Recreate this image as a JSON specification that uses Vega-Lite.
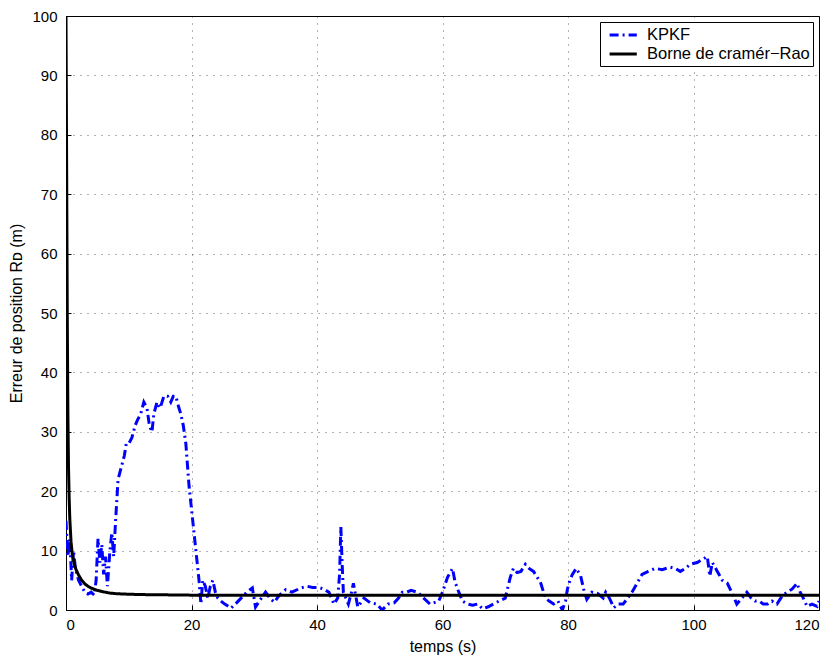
{
  "$schema": "https://vega.github.io/schema/vega-lite/v6.json",
  "width": 753,
  "height": 594,
  "autosize": "none",
  "padding": {"left": 66, "top": 16, "right": 18, "bottom": 51},
  "background": "white",
  "config": {
    "font": "Liberation Sans",
    "view": {"stroke": "black", "strokeWidth": 1},
    "axis": {
      "labelFont": "Liberation Sans", "titleFont": "Liberation Sans",
      "labelFontSize": 15, "titleFontSize": 16, "titleFontWeight": "normal",
      "labelColor": "black", "titleColor": "black",
      "domainColor": "black", "tickColor": "black",
      "grid": true, "gridColor": "black", "gridOpacity": 0.6, "gridDash": [1, 6],
      "tickSize": -5
    }
  },
  "data": {"values": [
    {"t":0,"v":15,"s":"KPKF"},{"t":0.3,"v":9,"s":"KPKF"},{"t":0.6,"v":12,"s":"KPKF"},{"t":0.9,"v":5,"s":"KPKF"},{"t":1.2,"v":10,"s":"KPKF"},{"t":1.5,"v":7,"s":"KPKF"},{"t":2,"v":5,"s":"KPKF"},{"t":2.5,"v":4,"s":"KPKF"},{"t":3,"v":3,"s":"KPKF"},{"t":3.5,"v":2.7,"s":"KPKF"},{"t":4,"v":3,"s":"KPKF"},{"t":4.5,"v":2.5,"s":"KPKF"},{"t":4.8,"v":5,"s":"KPKF"},{"t":5.1,"v":12,"s":"KPKF"},{"t":5.4,"v":8,"s":"KPKF"},{"t":5.7,"v":11,"s":"KPKF"},{"t":6,"v":6,"s":"KPKF"},{"t":6.3,"v":9,"s":"KPKF"},{"t":6.6,"v":4,"s":"KPKF"},{"t":7,"v":10,"s":"KPKF"},{"t":7.3,"v":13,"s":"KPKF"},{"t":7.6,"v":9,"s":"KPKF"},{"t":7.9,"v":15,"s":"KPKF"},{"t":8.3,"v":22,"s":"KPKF"},{"t":8.8,"v":24,"s":"KPKF"},{"t":9.3,"v":26,"s":"KPKF"},{"t":9.6,"v":28,"s":"KPKF"},{"t":10,"v":28,"s":"KPKF"},{"t":10.5,"v":29,"s":"KPKF"},{"t":11,"v":31,"s":"KPKF"},{"t":11.4,"v":32,"s":"KPKF"},{"t":11.9,"v":33,"s":"KPKF"},{"t":12.4,"v":35,"s":"KPKF"},{"t":12.9,"v":34,"s":"KPKF"},{"t":13.3,"v":31,"s":"KPKF"},{"t":13.7,"v":30,"s":"KPKF"},{"t":14,"v":33,"s":"KPKF"},{"t":14.5,"v":35,"s":"KPKF"},{"t":15,"v":34,"s":"KPKF"},{"t":15.6,"v":36,"s":"KPKF"},{"t":16.2,"v":36,"s":"KPKF"},{"t":16.7,"v":35,"s":"KPKF"},{"t":17.1,"v":36,"s":"KPKF"},{"t":17.5,"v":36,"s":"KPKF"},{"t":18,"v":34,"s":"KPKF"},{"t":18.3,"v":33,"s":"KPKF"},{"t":18.7,"v":31,"s":"KPKF"},{"t":19.1,"v":28,"s":"KPKF"},{"t":19.6,"v":21,"s":"KPKF"},{"t":20,"v":17,"s":"KPKF"},{"t":20.4,"v":13,"s":"KPKF"},{"t":20.8,"v":9,"s":"KPKF"},{"t":21.2,"v":5,"s":"KPKF"},{"t":21.5,"v":1,"s":"KPKF"},{"t":21.8,"v":5,"s":"KPKF"},{"t":22.2,"v":4,"s":"KPKF"},{"t":22.6,"v":2,"s":"KPKF"},{"t":23,"v":4,"s":"KPKF"},{"t":23.4,"v":5,"s":"KPKF"},{"t":23.8,"v":3,"s":"KPKF"},{"t":24.2,"v":2,"s":"KPKF"},{"t":24.7,"v":1.5,"s":"KPKF"},{"t":25.3,"v":1,"s":"KPKF"},{"t":26.3,"v":0.3,"s":"KPKF"},{"t":27,"v":1,"s":"KPKF"},{"t":27.9,"v":2,"s":"KPKF"},{"t":28.8,"v":3,"s":"KPKF"},{"t":29.7,"v":3.7,"s":"KPKF"},{"t":30.2,"v":0.5,"s":"KPKF"},{"t":30.8,"v":1.5,"s":"KPKF"},{"t":31.8,"v":3,"s":"KPKF"},{"t":32.5,"v":2,"s":"KPKF"},{"t":33.2,"v":1.3,"s":"KPKF"},{"t":34,"v":2.5,"s":"KPKF"},{"t":35,"v":3.4,"s":"KPKF"},{"t":36,"v":3,"s":"KPKF"},{"t":37.4,"v":3.7,"s":"KPKF"},{"t":38.4,"v":4,"s":"KPKF"},{"t":39.3,"v":3.8,"s":"KPKF"},{"t":40.3,"v":3.8,"s":"KPKF"},{"t":41.1,"v":3.5,"s":"KPKF"},{"t":41.9,"v":3,"s":"KPKF"},{"t":42.7,"v":1,"s":"KPKF"},{"t":43.3,"v":2,"s":"KPKF"},{"t":43.6,"v":6,"s":"KPKF"},{"t":43.8,"v":14,"s":"KPKF"},{"t":44,"v":8,"s":"KPKF"},{"t":44.2,"v":3,"s":"KPKF"},{"t":45,"v":1,"s":"KPKF"},{"t":45.5,"v":3,"s":"KPKF"},{"t":45.8,"v":4.5,"s":"KPKF"},{"t":46.5,"v":0.5,"s":"KPKF"},{"t":47.5,"v":2,"s":"KPKF"},{"t":48.5,"v":1.2,"s":"KPKF"},{"t":49.5,"v":1,"s":"KPKF"},{"t":50.4,"v":0,"s":"KPKF"},{"t":51.3,"v":1,"s":"KPKF"},{"t":52.3,"v":1.2,"s":"KPKF"},{"t":53,"v":2,"s":"KPKF"},{"t":53.6,"v":3,"s":"KPKF"},{"t":54.3,"v":3,"s":"KPKF"},{"t":55,"v":3.3,"s":"KPKF"},{"t":56,"v":3,"s":"KPKF"},{"t":57,"v":2,"s":"KPKF"},{"t":58,"v":1,"s":"KPKF"},{"t":59.4,"v":1.5,"s":"KPKF"},{"t":60,"v":3,"s":"KPKF"},{"t":60.8,"v":5.5,"s":"KPKF"},{"t":61.6,"v":7,"s":"KPKF"},{"t":62,"v":4.7,"s":"KPKF"},{"t":62.6,"v":3,"s":"KPKF"},{"t":63.2,"v":1.5,"s":"KPKF"},{"t":64,"v":1,"s":"KPKF"},{"t":64.8,"v":0.8,"s":"KPKF"},{"t":65.6,"v":1,"s":"KPKF"},{"t":66.4,"v":0.2,"s":"KPKF"},{"t":67.2,"v":0.5,"s":"KPKF"},{"t":68.1,"v":1,"s":"KPKF"},{"t":69,"v":1.5,"s":"KPKF"},{"t":70,"v":2,"s":"KPKF"},{"t":70.8,"v":5.5,"s":"KPKF"},{"t":71.3,"v":7,"s":"KPKF"},{"t":71.9,"v":6.3,"s":"KPKF"},{"t":72.5,"v":6.5,"s":"KPKF"},{"t":73.2,"v":7.7,"s":"KPKF"},{"t":73.8,"v":7,"s":"KPKF"},{"t":74.5,"v":6.5,"s":"KPKF"},{"t":75.1,"v":5.5,"s":"KPKF"},{"t":75.6,"v":4.7,"s":"KPKF"},{"t":76.4,"v":2,"s":"KPKF"},{"t":77,"v":1.5,"s":"KPKF"},{"t":77.7,"v":1,"s":"KPKF"},{"t":78.4,"v":1.5,"s":"KPKF"},{"t":79.1,"v":0,"s":"KPKF"},{"t":79.6,"v":1.5,"s":"KPKF"},{"t":79.9,"v":3.5,"s":"KPKF"},{"t":80.3,"v":5,"s":"KPKF"},{"t":80.7,"v":6,"s":"KPKF"},{"t":81.3,"v":7,"s":"KPKF"},{"t":82,"v":5.8,"s":"KPKF"},{"t":82.5,"v":3.5,"s":"KPKF"},{"t":83,"v":1.8,"s":"KPKF"},{"t":83.8,"v":3,"s":"KPKF"},{"t":84.7,"v":2.8,"s":"KPKF"},{"t":85.6,"v":2,"s":"KPKF"},{"t":86,"v":3,"s":"KPKF"},{"t":86.6,"v":2,"s":"KPKF"},{"t":87.3,"v":0.4,"s":"KPKF"},{"t":88,"v":1,"s":"KPKF"},{"t":88.8,"v":1,"s":"KPKF"},{"t":89.5,"v":2,"s":"KPKF"},{"t":90.2,"v":3,"s":"KPKF"},{"t":91,"v":4.5,"s":"KPKF"},{"t":91.8,"v":6,"s":"KPKF"},{"t":92.8,"v":6.5,"s":"KPKF"},{"t":93.9,"v":7,"s":"KPKF"},{"t":95,"v":6.8,"s":"KPKF"},{"t":96.3,"v":7.2,"s":"KPKF"},{"t":97.1,"v":7,"s":"KPKF"},{"t":97.9,"v":6.5,"s":"KPKF"},{"t":98.7,"v":7,"s":"KPKF"},{"t":99.5,"v":7.7,"s":"KPKF"},{"t":100.6,"v":8,"s":"KPKF"},{"t":101.4,"v":8.5,"s":"KPKF"},{"t":102.2,"v":9,"s":"KPKF"},{"t":102.6,"v":5.7,"s":"KPKF"},{"t":103,"v":8,"s":"KPKF"},{"t":103.8,"v":6.5,"s":"KPKF"},{"t":104.6,"v":5,"s":"KPKF"},{"t":105.4,"v":4.5,"s":"KPKF"},{"t":106.3,"v":2.5,"s":"KPKF"},{"t":106.9,"v":1,"s":"KPKF"},{"t":107.7,"v":2,"s":"KPKF"},{"t":108.5,"v":3,"s":"KPKF"},{"t":109.2,"v":2,"s":"KPKF"},{"t":109.8,"v":1.5,"s":"KPKF"},{"t":110.5,"v":1.5,"s":"KPKF"},{"t":111.1,"v":1,"s":"KPKF"},{"t":111.8,"v":1,"s":"KPKF"},{"t":112.5,"v":1.5,"s":"KPKF"},{"t":113.3,"v":1,"s":"KPKF"},{"t":114.1,"v":2.3,"s":"KPKF"},{"t":114.9,"v":3,"s":"KPKF"},{"t":115.7,"v":3.5,"s":"KPKF"},{"t":116.5,"v":4.5,"s":"KPKF"},{"t":117,"v":3,"s":"KPKF"},{"t":117.5,"v":2,"s":"KPKF"},{"t":118.1,"v":0.6,"s":"KPKF"},{"t":118.9,"v":1,"s":"KPKF"},{"t":119.7,"v":0.6,"s":"KPKF"},{"t":120,"v":1.5,"s":"KPKF"},
    {"t":0,"v":100,"s":"Borne de cramér−Rao"},{"t":0.1,"v":75,"s":"Borne de cramér−Rao"},{"t":0.2,"v":50,"s":"Borne de cramér−Rao"},{"t":0.3,"v":33,"s":"Borne de cramér−Rao"},{"t":0.4,"v":24,"s":"Borne de cramér−Rao"},{"t":0.5,"v":19,"s":"Borne de cramér−Rao"},{"t":0.6,"v":15.5,"s":"Borne de cramér−Rao"},{"t":0.8,"v":11.5,"s":"Borne de cramér−Rao"},{"t":1,"v":9.4,"s":"Borne de cramér−Rao"},{"t":1.3,"v":7.8,"s":"Borne de cramér−Rao"},{"t":1.6,"v":6.8,"s":"Borne de cramér−Rao"},{"t":2,"v":5.9,"s":"Borne de cramér−Rao"},{"t":2.5,"v":5,"s":"Borne de cramér−Rao"},{"t":3,"v":4.4,"s":"Borne de cramér−Rao"},{"t":3.5,"v":4,"s":"Borne de cramér−Rao"},{"t":4,"v":3.7,"s":"Borne de cramér−Rao"},{"t":5,"v":3.3,"s":"Borne de cramér−Rao"},{"t":6,"v":3.05,"s":"Borne de cramér−Rao"},{"t":7,"v":2.85,"s":"Borne de cramér−Rao"},{"t":8,"v":2.75,"s":"Borne de cramér−Rao"},{"t":10,"v":2.65,"s":"Borne de cramér−Rao"},{"t":13,"v":2.58,"s":"Borne de cramér−Rao"},{"t":16,"v":2.55,"s":"Borne de cramér−Rao"},{"t":20,"v":2.5,"s":"Borne de cramér−Rao"},{"t":120,"v":2.5,"s":"Borne de cramér−Rao"}
  ]},
  "mark": {"type": "line", "strokeCap": "butt", "clip": true},
  "encoding": {
    "x": {"field": "t", "type": "quantitative", "title": "temps (s)",
      "scale": {"domain": [0, 120], "nice": false},
      "axis": {"values": [0, 20, 40, 60, 80, 100, 120], "labelPadding": 12, "titlePadding": 6}},
    "y": {"field": "v", "type": "quantitative", "title": "Erreur de position Rᴅ  (m)",
      "scale": {"domain": [0, 100], "nice": false},
      "axis": {"values": [0, 10, 20, 30, 40, 50, 60, 70, 80, 90, 100], "labelPadding": 14, "titlePadding": 7}},
    "color": {"field": "s", "type": "nominal",
      "scale": {"domain": ["KPKF", "Borne de cramér−Rao"], "range": ["#0000ff", "#000000"]},
      "legend": {"title": null, "orient": "top-right", "offset": 6,
        "fillColor": "white", "strokeColor": "black", "padding": 3,
        "labelFontSize": 16.5, "labelFont": "Liberation Sans", "labelColor": "black", "labelLimit": 400,
        "symbolType": "M-0.4,0H2.8", "symbolSize": 289, "symbolStrokeWidth": 3, "rowPadding": 0, "labelOffset": 24}},
    "strokeDash": {"field": "s", "type": "nominal",
      "scale": {"domain": ["KPKF", "Borne de cramér−Rao"], "range": [[9, 4, 2, 4], [1, 0]]},
      "legend": {"title": null, "symbolType": "M-0.4,0H2.8", "symbolSize": 289, "rowPadding": 0}},
    "strokeWidth": {"field": "s", "type": "nominal",
      "scale": {"domain": ["KPKF", "Borne de cramér−Rao"], "range": [3, 3]},
      "legend": null},
    "order": {"field": "t", "type": "quantitative"}
  }
}
